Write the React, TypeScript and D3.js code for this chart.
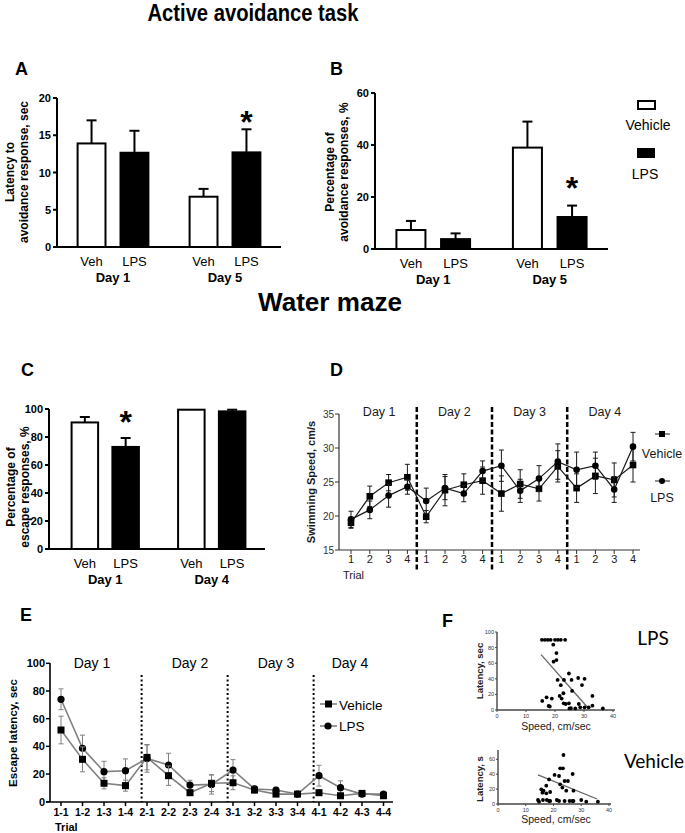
import React from "react";
import * as d3 from "d3";

const SANS = "'Liberation Sans', Arial, Helvetica, sans-serif";
const SOFT = "Lato, 'Open Sans', sans-serif";

// ---------- Panel A: latency to avoidance response, sec
const aDays = ["Day 1", "Day 5"];
const aVeh = [13.9, 6.75];
const aLps = [12.65, 12.7];
const aVehSem = [3.1, 1.05];
const aLpsSem = [2.95, 3.1];
const aTicks = [0, 5, 10, 15, 20];

// ---------- Panel B: percentage of avoidance responses, %
const bDays = ["Day 1", "Day 5"];
const bVeh = [7.3, 39];
const bLps = [3.8, 12.3];
const bVehSem = [3.5, 10];
const bLpsSem = [2.2, 4.4];
const bTicks = [0, 20, 40, 60];

// ---------- Panel C: percentage of escape responses, %
const cDays = ["Day 1", "Day 4"];
const cVeh = [90.4, 99.5];
const cLps = [72.9, 98.3];
const cVehSem = [3.9, 0];
const cLpsSem = [6.4, 1.2];
const cTicks = [0, 20, 40, 60, 80, 100];

const treatments = ["Veh", "LPS"];

// ---------- Panel D: swimming speed, cm/s
const dTrialLabels = ["1", "2", "3", "4", "1", "2", "3", "4", "1", "2", "3", "4", "1", "2", "3", "4"];
const dDays = ["Day 1", "Day 2", "Day 3", "Day 4"];
const dVeh = [19.0, 22.9, 24.9, 25.7, 19.9, 23.8, 24.6, 25.2, 23.3, 24.7, 24.0, 27.3, 24.1, 25.9, 25.3, 27.5];
const dVehSem = [0.8, 1.5, 1.2, 1.9, 0.9, 2.3, 1.6, 2.0, 2.6, 2.1, 1.8, 2.3, 2.1, 2.6, 2.5, 2.5];
const dLps = [19.5, 20.9, 23.0, 24.3, 22.2, 24.1, 23.3, 26.6, 27.4, 23.7, 25.5, 28.0, 26.8, 27.4, 23.9, 30.2];
const dLpsSem = [1.2, 1.3, 1.7, 1.1, 1.9, 1.7, 1.2, 1.5, 2.3, 1.7, 1.9, 2.6, 2.6, 2.0, 1.9, 2.1];
const dTicks = [15, 20, 25, 30, 35];

// ---------- Panel E: escape latency, sec
const eTrials = ["1-1", "1-2", "1-3", "1-4", "2-1", "2-2", "2-3", "2-4", "3-1", "3-2", "3-3", "3-4", "4-1", "4-2", "4-3", "4-4"];
const eDays = ["Day 1", "Day 2", "Day 3", "Day 4"];
const eVeh = [51.8, 30.6, 13.3, 11.6, 32.0, 18.8, 6.5, 13.3, 13.7, 8.4, 5.5, 5.5, 6.5, 4.3, 6.0, 4.3];
const eVehSem = [10, 9, 4, 4, 9, 7, 2, 6, 5, 2, 1.5, 1, 2, 1, 1.5, 1];
const eLps = [74, 38.6, 21.7, 22.4, 31.3, 26.5, 12.0, 12.5, 22.9, 9.2, 8.4, 5.5, 18.8, 10.1, 5.5, 5.5];
const eLpsSem = [7.5, 9.5, 7.5, 8.5, 10, 8.5, 3.5, 7, 7.5, 2, 2, 1, 7.5, 5, 1.5, 1.5];
const eTicks = [0, 20, 40, 60, 80, 100];

// ---------- Panel F: latency vs speed scatter
const fLpsSpeed = [15.5, 16.5, 17.5, 18.5, 20, 21, 22, 23.5, 19.4, 20.5, 19.5, 20.5, 20.9, 24.8, 23.1, 25.7, 28, 30.2, 29.3, 25.9, 15.6, 17.1, 18.9, 17.8, 18.2, 21.6, 22.9, 22.3, 23, 23.7, 25, 24.8, 28.2, 28.7, 30.2, 31.6, 32.9, 32.9, 36.5, 22, 25.5, 27];
const fLpsLatency = [90, 90, 90, 90, 90, 90, 90, 90, 83.7, 73, 62, 64, 38.6, 46.8, 38.6, 38.6, 41, 40, 32, 24.5, 11.6, 16.3, 14.6, 5.2, 4.5, 18, 21.5, 14.6, 8.6, 7.7, 2, 8.6, 7.7, 3.4, 3.4, 3.4, 5.6, 18, 2, 31.8, 2.5, 2];
const fLpsFitSpeed = [15.2, 31.8];
const fLpsFitLatency = [71, 1];
const fVehSpeed = [23.6, 22.4, 23.4, 20.4, 22, 24, 25.2, 26.9, 18.4, 22.4, 23.2, 17.4, 15.6, 16.4, 16, 17.4, 18.8, 27.2, 24.6, 14.4, 14.8, 16.2, 17.6, 18.4, 18.8, 21.2, 22, 24, 25.8, 26.8, 27.2, 30, 31.8, 36];
const fVehLatency = [65.8, 47.9, 47.9, 39, 37.6, 30.9, 30.9, 40.3, 33, 26.4, 22, 24.6, 19.7, 17.9, 15.2, 14.3, 16.1, 17.9, 17.9, 5.4, 3.1, 5.4, 5.4, 4, 4, 5.4, 4, 4, 4, 4, 4, 5.4, 3.1, 3.1];
const fVehFitSpeed = [14.4, 35.7];
const fVehFitLatency = [39, 6.7];
const fXTicks = [0, 10, 20, 30, 40];
const fLpsYTicks = [0, 20, 40, 60, 80, 100];
const fVehYTicks = [0, 20, 40, 60];

type BarProps = {
  axisX: number; axisY: number; topY: number; xStart: number; xEnd: number; yMax: number; ticks: number[];
  days: string[]; veh: number[]; lps: number[]; vehSem: number[]; lpsSem: number[];
  starDay: number; starGap: number; title: string[]; titleX: number[]; titleY: number;
};

function BarPanel(p: BarProps) {
  const y = d3.scaleLinear().domain([0, p.yMax]).range([p.axisY, p.topY]);
  const gx = d3.scaleBand<string>().domain(p.days).range([p.xStart, p.xEnd]);
  const ix = d3.scaleBand<string>().domain(treatments).range([0, gx.bandwidth()]).paddingInner(0.35).paddingOuter(0.48);
  const bw = ix.bandwidth();
  return (
    <g>
      {p.days.map((day, i) =>
        treatments.map((t, j) => {
          const v = j === 0 ? p.veh[i] : p.lps[i];
          const s = j === 0 ? p.vehSem[i] : p.lpsSem[i];
          const x0 = (gx(day) as number) + (ix(t) as number);
          const cx = x0 + bw / 2;
          return (
            <g key={day + t}>
              {s > 0 && (
                <g stroke="#000" strokeWidth={2}>
                  <line x1={cx} x2={cx} y1={y(v)} y2={y(v + s)} />
                  <line x1={cx - 5} x2={cx + 5} y1={y(v + s)} y2={y(v + s)} />
                </g>
              )}
              <rect x={x0} y={y(v)} width={bw} height={p.axisY - y(v)} fill={j === 0 ? "#fff" : "#000"} stroke="#000" strokeWidth={2} />
              <text x={cx} y={p.axisY + 19} textAnchor="middle" fontSize={13} fontFamily={SANS}>{t}</text>
              {i === p.starDay && j === 1 && (
                <text x={cx} y={y(v + s) - p.starGap + 18} textAnchor="middle" fontSize={32} fontWeight="bold" fontFamily={SANS}>*</text>
              )}
            </g>
          );
        })
      )}
      {p.days.map((day) => (
        <text key={day} x={(gx(day) as number) + gx.bandwidth() / 2} y={p.axisY + 35} textAnchor="middle" fontSize={13} fontWeight="bold" fontFamily={SANS}>{day}</text>
      ))}
      <line x1={p.axisX} x2={p.axisX} y1={p.axisY} y2={p.topY} stroke="#000" strokeWidth={2} />
      <line x1={p.axisX - 4} x2={p.xEnd} y1={p.axisY} y2={p.axisY} stroke="#000" strokeWidth={2} />
      {p.ticks.map((t) => (
        <g key={t}>
          <line x1={p.axisX - 4} x2={p.axisX} y1={y(t)} y2={y(t)} stroke="#000" strokeWidth={2} />
          <text x={p.axisX - 6} y={y(t) + 4} textAnchor="end" fontSize={11} fontWeight="bold" fontFamily={SANS}>{t}</text>
        </g>
      ))}
      {p.title.map((line, k) => (
        <text key={k} transform={`translate(${p.titleX[k]},${p.titleY}) rotate(-90)`} textAnchor="middle" fontSize={12} fontWeight="bold" fontFamily={SANS}>{line}</text>
      ))}
    </g>
  );
}

function PanelD() {
  const x = d3.scaleLinear().domain([0, 15]).range([351, 633]);
  const y = d3.scaleLinear().domain([15, 35]).range([550, 414]);
  const line = d3.line<number>().x((_, i) => x(i)).y((v) => y(v));
  const idx = d3.range(dVeh.length);
  const ink = "#1a1a1a";
  return (
    <g fontFamily={SANS} fill={ink}>
      {[3.5, 7.5, 11.5].map((d) => (
        <line key={d} x1={x(d)} x2={x(d)} y1={407} y2={572} stroke="#000" strokeWidth={2.5} strokeDasharray="5,2.5" />
      ))}
      <line x1={339} x2={339} y1={550} y2={414} stroke="#333" strokeWidth={1.2} />
      <line x1={339} x2={640} y1={550} y2={550} stroke="#333" strokeWidth={1.2} />
      {dTicks.map((t) => (
        <g key={t}>
          <line x1={335} x2={339} y1={y(t)} y2={y(t)} stroke="#333" />
          <text x={334} y={y(t) + 3.5} textAnchor="end" fontSize={10} fill="#333">{t}</text>
        </g>
      ))}
      {idx.map((i) => (
        <g key={i}>
          <line x1={x(i)} x2={x(i)} y1={550} y2={554} stroke="#333" />
          <text x={x(i)} y={563} textAnchor="middle" fontSize={11}>{dTrialLabels[i]}</text>
        </g>
      ))}
      {dDays.map((d, k) => (
        <text key={d} x={x(4 * k + 1.5)} y={416} textAnchor="middle" fontSize={12.5}>{d}</text>
      ))}
      <text x={343} y={579} fontSize={11}>Trial</text>
      <text transform="translate(315,482) rotate(-90)" textAnchor="middle" fontSize={11} fontWeight="bold">Swimming Speed, cm/s</text>
      {[{ v: dVeh, s: dVehSem }, { v: dLps, s: dLpsSem }].map((ser, k) => (
        <g key={k}>
          {idx.map((i) => (
            <g key={i} stroke={ink} strokeWidth={1}>
              <line x1={x(i)} x2={x(i)} y1={y(ser.v[i] - ser.s[i])} y2={y(ser.v[i] + ser.s[i])} />
              <line x1={x(i) - 2.5} x2={x(i) + 2.5} y1={y(ser.v[i] - ser.s[i])} y2={y(ser.v[i] - ser.s[i])} />
              <line x1={x(i) - 2.5} x2={x(i) + 2.5} y1={y(ser.v[i] + ser.s[i])} y2={y(ser.v[i] + ser.s[i])} />
            </g>
          ))}
          <path d={line(ser.v) as string} fill="none" stroke={ink} strokeWidth={1.2} />
          {idx.map((i) =>
            k === 0 ? (
              <rect key={i} x={x(i) - 3.3} y={y(ser.v[i]) - 3.3} width={6.6} height={6.6} fill="#000" />
            ) : (
              <circle key={i} cx={x(i)} cy={y(ser.v[i])} r={3.3} fill="#000" />
            )
          )}
        </g>
      ))}
      <line x1={655} x2={670} y1={434} y2={434} stroke={ink} />
      <rect x={659} y={431} width={6} height={6} fill="#000" />
      <text x={662} y={458} textAnchor="middle" fontSize={12.5}>Vehicle</text>
      <line x1={655} x2={670} y1={481} y2={481} stroke={ink} />
      <circle cx={662} cy={481} r={3} fill="#000" />
      <text x={662} y={502} textAnchor="middle" fontSize={12.5}>LPS</text>
    </g>
  );
}

function PanelE() {
  const x = d3.scaleLinear().domain([0, 15]).range([61, 383.5]);
  const y = d3.scaleLinear().domain([0, 100]).range([801.7, 663.3]);
  const line = d3.line<number>().x((_, i) => x(i)).y((v) => y(v));
  const idx = d3.range(eVeh.length);
  const gray = "#808080";
  return (
    <g fontFamily={SANS}>
      {[3.75, 7.75, 11.75].map((d) => (
        <line key={d} x1={x(d)} x2={x(d)} y1={675} y2={802} stroke="#000" strokeWidth={2} strokeDasharray="2,2.5" />
      ))}
      {[{ v: eLps, s: eLpsSem }, { v: eVeh, s: eVehSem }].map((ser, k) => (
        <g key={k}>
          {idx.map((i) => (
            <g key={i} stroke={gray} strokeWidth={1}>
              <line x1={x(i)} x2={x(i)} y1={y(Math.max(0, ser.v[i] - ser.s[i]))} y2={y(ser.v[i] + ser.s[i])} />
              <line x1={x(i) - 2.5} x2={x(i) + 2.5} y1={y(Math.max(0, ser.v[i] - ser.s[i]))} y2={y(Math.max(0, ser.v[i] - ser.s[i]))} />
              <line x1={x(i) - 2.5} x2={x(i) + 2.5} y1={y(ser.v[i] + ser.s[i])} y2={y(ser.v[i] + ser.s[i])} />
            </g>
          ))}
          <path d={line(ser.v) as string} fill="none" stroke={gray} strokeWidth={1.6} />
          {idx.map((i) =>
            k === 1 ? (
              <rect key={i} x={x(i) - 3.5} y={y(ser.v[i]) - 3.5} width={7} height={7} fill="#000" />
            ) : (
              <circle key={i} cx={x(i)} cy={y(ser.v[i])} r={3.6} fill="#000" />
            )
          )}
        </g>
      ))}
      <line x1={50} x2={50} y1={802} y2={663} stroke="#000" strokeWidth={1.6} />
      <line x1={46} x2={393} y1={802} y2={802} stroke="#000" strokeWidth={1.6} />
      {eTicks.map((t) => (
        <g key={t}>
          <line x1={46} x2={50} y1={y(t)} y2={y(t)} stroke="#000" strokeWidth={1.5} />
          <text x={45} y={y(t) + 4} textAnchor="end" fontSize={11} fontWeight="bold">{t}</text>
        </g>
      ))}
      {idx.map((i) => (
        <g key={i}>
          <line x1={x(i)} x2={x(i)} y1={802} y2={806} stroke="#000" strokeWidth={1.5} />
          <text x={x(i)} y={816} textAnchor="middle" fontSize={10.5} fontWeight="bold">{eTrials[i]}</text>
        </g>
      ))}
      <text x={55} y={831} fontSize={11} fontWeight="bold">Trial</text>
      {eDays.map((d, k) => (
        <text key={d} x={[92, 190, 276, 350][k]} y={668} textAnchor="middle" fontSize={14}>{d}</text>
      ))}
      <text transform="translate(17,733) rotate(-90)" textAnchor="middle" fontSize={11.5} fontWeight="bold">Escape latency, sec</text>
      <line x1={320} x2={337} y1={704} y2={704} stroke={gray} strokeWidth={1.6} />
      <rect x={325} y={700.5} width={7} height={7} fill="#000" />
      <text x={339} y={710} fontSize={13.5}>Vehicle</text>
      <line x1={320} x2={337} y1={726} y2={726} stroke={gray} strokeWidth={1.6} />
      <circle cx={328} cy={726} r={3.6} fill="#000" />
      <text x={339} y={731} fontSize={13.5}>LPS</text>
    </g>
  );
}

type ScatterProps = {
  x0: number; x1: number; y0: number; y1: number; yMax: number; axisTop: number; yTicks: number[];
  sx: number[]; sy: number[]; fitX: number[]; fitY: number[]; ytitle: string; titleY: number; xtitleY: number;
};

function Scatter(p: ScatterProps) {
  const x = d3.scaleLinear().domain([0, 40]).range([p.x0, p.x1]);
  const y = d3.scaleLinear().domain([0, p.yMax]).range([p.y0, p.y1]);
  return (
    <g fontFamily={SANS}>
      <line x1={p.x0} x2={p.x0} y1={p.y0} y2={p.axisTop} stroke="#444" strokeWidth={1.4} />
      <line x1={p.x0} x2={p.x1 + 2} y1={p.y0} y2={p.y0} stroke="#444" strokeWidth={1.6} />
      {p.yTicks.map((t) => (
        <g key={t}>
          <line x1={p.x0 - 2} x2={p.x0} y1={y(t)} y2={y(t)} stroke="#444" />
          <text x={p.x0 - 3} y={y(t) + 2} textAnchor="end" fontSize={5.5} fill="#333">{t}</text>
        </g>
      ))}
      {fXTicks.map((t) => (
        <g key={t}>
          <line x1={x(t)} x2={x(t)} y1={p.y0} y2={p.y0 + 2} stroke="#444" />
          <text x={x(t)} y={p.y0 + 8} textAnchor="middle" fontSize={5.5} fill="#333">{t}</text>
        </g>
      ))}
      <line x1={x(p.fitX[0])} x2={x(p.fitX[1])} y1={y(p.fitY[0])} y2={y(p.fitY[1])} stroke="#666" strokeWidth={1.3} />
      {p.sx.map((s, i) => (
        <circle key={i} cx={x(s)} cy={y(p.sy[i])} r={1.9} fill="#000" />
      ))}
      <text transform={`translate(483,${p.titleY}) rotate(-90)`} textAnchor="middle" fontSize={9.5} fontWeight="bold" fill="#222">{p.ytitle}</text>
      <text x={556} y={p.xtitleY} textAnchor="middle" fontSize={10.5} fill="#222">Speed, cm/sec</text>
    </g>
  );
}

export default function App() {
  return (
    <svg width={685} height={833} style={{ position: "absolute", left: 0, top: 0, background: "#fff" }}>
      <rect width={685} height={833} fill="#fff" />
      <text x={253} y={21} textAnchor="middle" fontSize={24} fontWeight="bold" fontFamily={SANS} textLength={211} lengthAdjust="spacingAndGlyphs">Active avoidance task</text>
      <text x={330} y={311} textAnchor="middle" fontSize={26} fontWeight="bold" fontFamily={SANS} textLength={144} lengthAdjust="spacingAndGlyphs">Water maze</text>

      {[
        ["A", 15, 75], ["B", 330, 75], ["C", 21, 376], ["D", 330, 376], ["E", 20, 621], ["F", 442, 627],
      ].map(([l, x, y]) => (
        <text key={l as string} x={x as number} y={y as number} fontSize={18} fontWeight="bold" fontFamily={SANS}>{l}</text>
      ))}

      <BarPanel axisX={57} axisY={247} topY={98} xStart={57} xEnd={281} yMax={20} ticks={aTicks}
        days={aDays} veh={aVeh} lps={aLps} vehSem={aVehSem} lpsSem={aLpsSem} starDay={1} starGap={14}
        title={["Latency to", "avoidance response, sec"]} titleX={[14, 28]} titleY={172} />
      <BarPanel axisX={375} axisY={249} topY={93} xStart={375} xEnd={608} yMax={60} ticks={bTicks}
        days={bDays} veh={bVeh} lps={bLps} vehSem={bVehSem} lpsSem={bLpsSem} starDay={1} starGap={25}
        title={["Percentage of", "avoidance responses, %"]} titleX={[334, 348]} titleY={172} />
      <BarPanel axisX={49} axisY={549} topY={409} xStart={52} xEnd={265} yMax={100} ticks={cTicks}
        days={cDays} veh={cVeh} lps={cLps} vehSem={cVehSem} lpsSem={cLpsSem} starDay={0} starGap={23}
        title={["Percentage of", "escape responses, %"]} titleX={[15, 29]} titleY={487} />

      <g fontFamily={SANS}>
        <rect x={638} y={101} width={17} height={8} fill="#fff" stroke="#000" strokeWidth={2} />
        <text x={648} y={130} textAnchor="middle" fontSize={14}>Vehicle</text>
        <rect x={637} y={148} width={18} height={10} fill="#000" />
        <text x={645} y={179} textAnchor="middle" fontSize={14}>LPS</text>
      </g>

      <PanelD />
      <PanelE />

      <Scatter x0={497} x1={613} y0={710} y1={632} yMax={100} axisTop={632} yTicks={fLpsYTicks}
        sx={fLpsSpeed} sy={fLpsLatency} fitX={fLpsFitSpeed} fitY={fLpsFitLatency} ytitle="Latency, sec" titleY={671} xtitleY={730} />
      <Scatter x0={498} x1={609} y0={804} y1={759.3} yMax={60} axisTop={750} yTicks={fVehYTicks}
        sx={fVehSpeed} sy={fVehLatency} fitX={fVehFitSpeed} fitY={fVehFitLatency} ytitle="Latency, s" titleY={779} xtitleY={823} />
      <text x={653} y={645} textAnchor="middle" fontSize={19} fontFamily={SOFT}>LPS</text>
      <text x={654} y={768} textAnchor="middle" fontSize={19} fontFamily={SOFT}>Vehicle</text>
    </svg>
  );
}
